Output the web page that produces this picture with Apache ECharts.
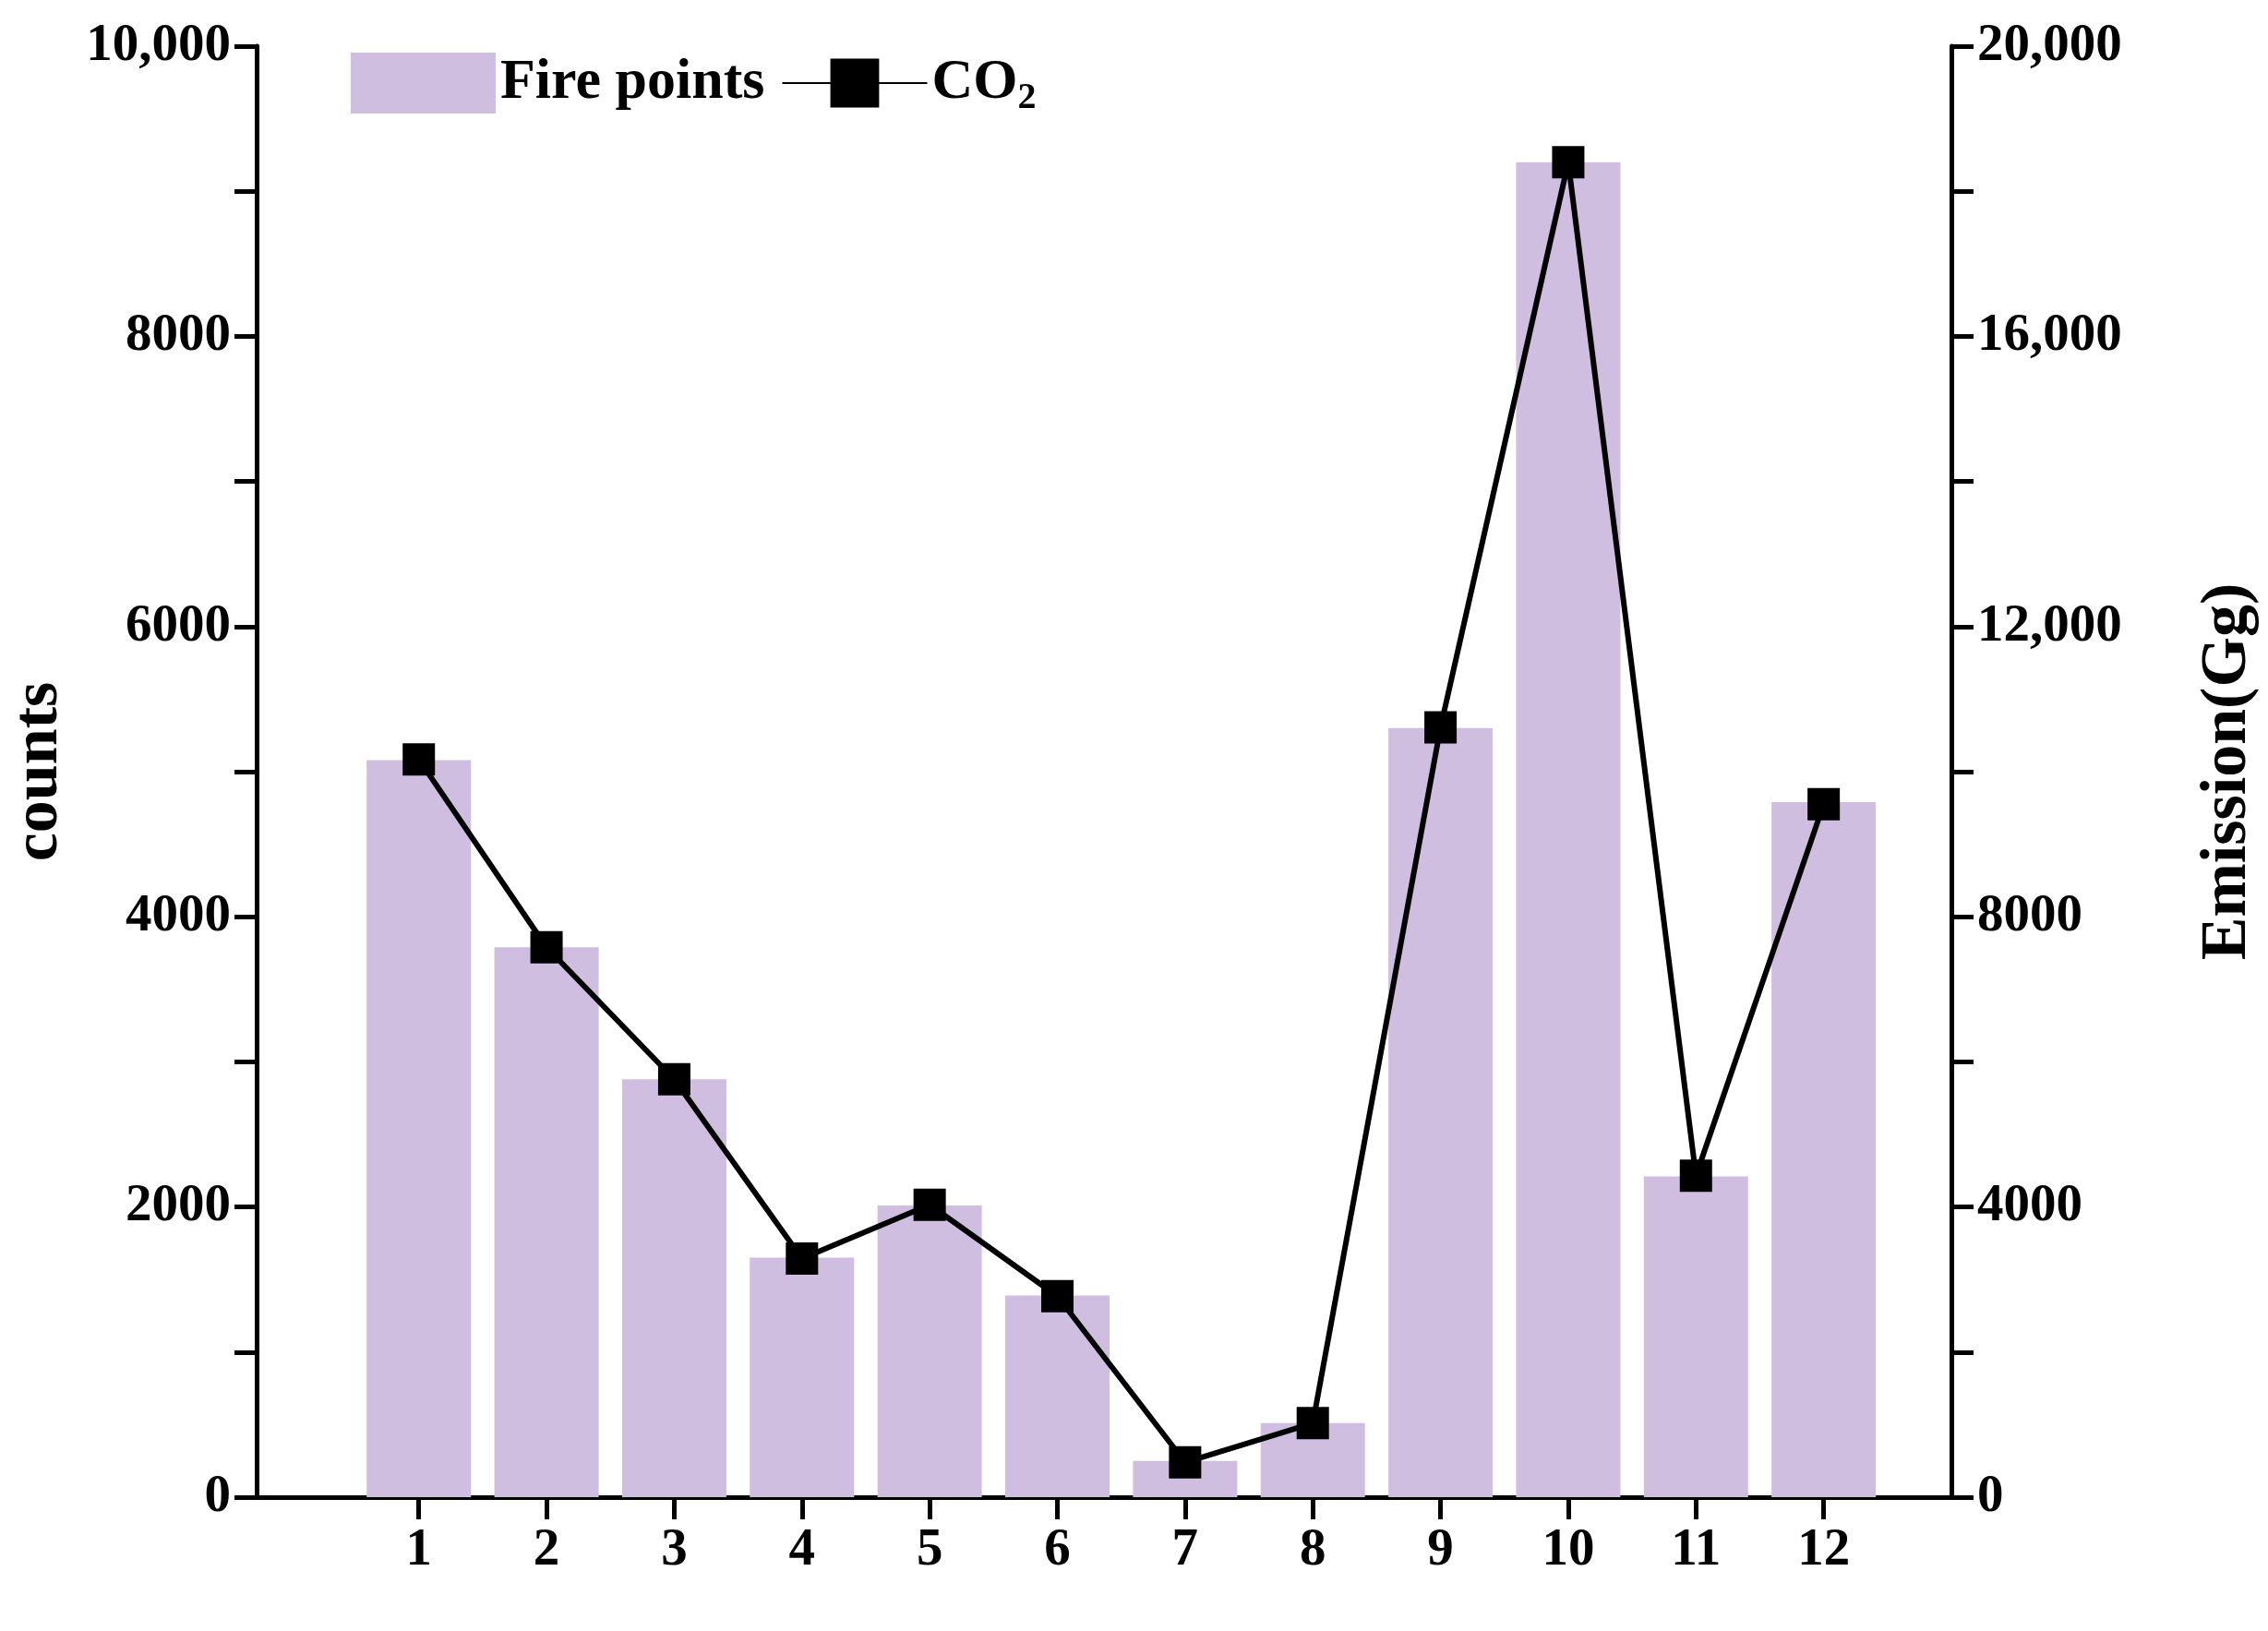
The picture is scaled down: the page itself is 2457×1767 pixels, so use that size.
<!DOCTYPE html>
<html><head><meta charset="utf-8">
<script src="https://cdn.jsdelivr.net/npm/echarts@6/dist/echarts.min.js"></script>
<style>html,body{margin:0;background:#fff}#c{width:2457px;height:1767px}</style>
</head><body><div id="c"></div>
<script>
var months = [1, 2, 3, 4, 5, 6, 7, 8, 9, 10, 11, 12];
var firePoints = [5080, 3790, 2880, 1650, 2010, 1390, 250, 510, 5300, 9200, 2210, 4790];
var co2 = [10170, 7580, 5760, 3290, 4030, 2770, 480, 1020, 10610, 18400, 4430, 9550];

var font = 'Liberation Serif';
var fmt = function(v){ return v >= 10000 ? v.toLocaleString('en-US') : String(v); };
var axisLine = {show: true, onZero: false, lineStyle: {color: '#000', width: 5}};
var tick = {show: true, inside: false, length: 24, lineStyle: {color: '#000', width: 5}};
var label = {color: '#000', fontFamily: font, fontWeight: 'bold', fontSize: 57};
var nameStyle = {color: '#000', fontFamily: font, fontWeight: 'bold', fontSize: 70};

var chart = echarts.init(document.getElementById('c'));
chart.setOption({
  backgroundColor: '#fff',
  animation: false,
  grid: {left: 260, right: 339, top: 50, bottom: 145},
  legend: {
    left: 375, top: 52, itemGap: 18, itemWidth: 157, itemHeight: 66,
    textStyle: {color: '#000', fontFamily: font, fontWeight: 'bold', fontSize: 62,
      rich: {sub: {fontFamily: font, fontWeight: 'bold', fontSize: 40, verticalAlign: 'bottom', padding: [34, 0, 0, 0]}}},
    formatter: function(n){ return n === 'CO2' ? 'CO{sub|2}' : n; },
    data: [{name: 'Fire points', icon: 'rect'}, {name: 'CO2'}]
  },
  xAxis: {
    type: 'value', min: -0.27, max: 13,
    axisLine: axisLine,
    axisTick: Object.assign({customValues: months}, tick),
    axisLabel: Object.assign({customValues: months, margin: 30}, label),
    splitLine: {show: false}
  },
  yAxis: [{
    type: 'value', min: 0, max: 10000, interval: 1000,
    name: 'counts', nameLocation: 'middle', nameGap: 200, nameRotate: 90,
    nameTextStyle: nameStyle,
    axisLine: axisLine, axisTick: tick,
    axisLabel: Object.assign({margin: 28, formatter: function(v){ return v % 2000 === 0 ? fmt(v) : ''; }}, label),
    splitLine: {show: false}
  }, {
    type: 'value', min: 0, max: 20000, interval: 2000, position: 'right',
    name: 'Emission(Gg)', nameLocation: 'middle', nameGap: 265, nameRotate: 90,
    nameTextStyle: nameStyle,
    axisLine: axisLine, axisTick: tick,
    axisLabel: Object.assign({margin: 28, formatter: function(v){ return v % 4000 === 0 ? fmt(v) : ''; }}, label),
    splitLine: {show: false}
  }],
  series: [{
    name: 'Fire points', type: 'bar', yAxisIndex: 0, barWidth: 113,
    itemStyle: {color: '#cfbee0'},
    data: months.map(function(m, i){ return [m, firePoints[i]]; })
  }, {
    name: 'CO2', type: 'line', yAxisIndex: 1,
    symbol: 'rect', symbolSize: 35,
    lineStyle: {color: '#000', width: 6}, itemStyle: {color: '#000'},
    data: months.map(function(m, i){ return [m, co2[i]]; })
  }]
});
</script></body></html>
